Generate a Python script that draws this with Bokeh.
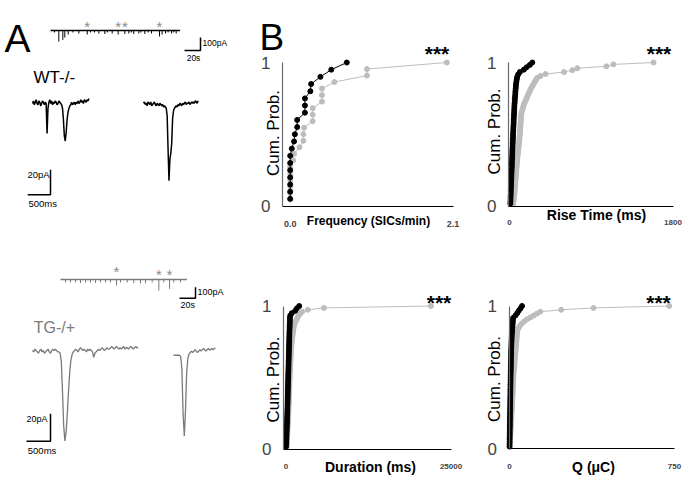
import numpy as np
from bokeh.plotting import figure
from bokeh.layouts import row, column
from bokeh.models import Range1d, FixedTicker, ColumnDataSource
from bokeh.embed import file_html
from bokeh.resources import INLINE
from bokeh.core.properties import value

FONT = "Liberation Sans"
BLACK = "#000000"
TRACE_GRAY = "#7a7a7a"
STAR_GRAY = "#8c8c8c"
CDF_GRAY = "#bdbdbd"

# ---------------- Panel A data ----------------
# overview recordings (time in s, event amplitude in pA, downward)
WT_OVERVIEW_LENGTH_S = 162
WT_EVENT_T = [5, 10.4, 15.4, 17.9, 22.1, 28, 35.4, 45.9, 50, 55, 60.4, 67.9, 71, 77.1, 84.6, 92.9,
              97.9, 101, 104.1, 110.4, 113, 117.9, 122, 126.3, 136.3, 139.5, 143.8, 147, 151.3, 154, 157.1]
WT_EVENT_PA = [15, 85, 72, 54, 31, 15, 23, 31, 15, 15, 23, 27, 15, 23, 31, 27,
               23, 15, 27, 23, 15, 27, 15, 23, 46, 31, 23, 15, 23, 15, 23]
WT_STAR_T = [45.9, 84.6, 92.9, 136.3]

TG_OVERVIEW_LENGTH_S = 158
TG_EVENT_T = [6.3, 12.5, 18.8, 25, 31.3, 37.5, 43.8, 50, 56.3, 62.5, 70, 75, 83.4, 91.6, 100,
              106.3, 114.6, 122.9, 129.1, 136.3, 141.6, 150]
TG_EVENT_PA = [27, 27, 27, 32, 27, 27, 32, 27, 27, 27, 55, 27, 27, 32, 36,
               36, 27, 100, 27, 85, 27, 27]
TG_STAR_T = [70, 122.9, 136.3]

# expanded traces (pA), sampled every WT_DT_MS / TG_DT_MS
WT_DT_MS = 20
WT_TRACE_1 = [0, 2, -1, 1, 3, 0, -1, 2, 1, -2, 0, 2, 1, -1, 1, 0, -24, -4, 1, 3, 0, 2, -1, 1, 0, 2, 1,
              -1, 0, 2, 1, 0, -1, -4, -13, -26, -30, -23, -13, -7, -4, -2, -1, 1, -1, 0, 1, -1, 1, 0,
              2, 0, 1, 3, 1, 2, 0, 3, 2, 1, 3, 2, 4]
WT_TRACE_2 = [1, 2, 0, 1, -1, 2, 1, 0, 2, -1, 0, 1, 2, 0, -1, 1, 0, -1, 1, 0, -1, 0, -2, -1, -2, -3,
              -9, -36, -61, -44, -39, -31, -11, -5, -3, -2, -1, -2, 0, -1, 1, 0, -1, 1, 0, 1, 2, 0,
              1, 1, 2, 0, 1, 2, 1, 2, 1, 3, 2, 1, 3]
TG_DT_MS = 25
TG_TRACE_1 = [0, -1, 1, 0, -1, -2, 0, 1, -1, 0, -2, -1, 0, 1, -1, -2, 0, 1, 0, 1, 0, -1,
              -1, -2, -8, -30, -55, -66, -60, -46, -30, -16, -7, -3,
              -1, 0, 1, 0, -1, 1, 2, 1, 0, 1, 0, -1, 1, 0, 1, 0, -1,
              -5, -2, -1,
              0, 1, 0, 1, 2, 1, 0, 1, 2, 1, 1, 2, 3, 2, 1, 2, 3, 2, 1, 2, 1, 2, 3, 1, 2, 2, 1, 2,
              3, 2, 1, 2, 3, 2, 2]
TG_TRACE_2 = [-2, -2, -2, -2, -2, -2, -3, -12, -45, -61, -42, -14, -4, -1, 0, 1, 0, 1, 2, 1, 0, 1,
              2, 1, 2, 3, 2, 1, 2, 3, 2, 2, 3, 2, 3, 3]

# scale bars
OVERVIEW_BAR_PA = 100
OVERVIEW_BAR_S = 20
TRACE_BAR_PA = 20
TRACE_BAR_MS = 500

# ---------------- Panel B data (cumulative probability) ----------------
WT_FREQ = [0, 0, 0, 0, 0, 0, 0, 0.02, 0.05, 0.06, 0.09, 0.09, 0.19, 0.19, 0.19, 0.26, 0.27, 0.39, 0.53, 0.73]
TG_FREQ = [0, 0, 0, 0, 0, 0, 0.04, 0.05, 0.12, 0.17, 0.17, 0.18, 0.29, 0.29, 0.29, 0.41, 0.41, 0.41,
           0.57, 0.99, 0.99, 2.02]

WT_RISE = [9, 11, 12, 12, 14, 15, 15, 17, 18, 18, 20, 21, 22, 22, 24, 25, 26, 26, 28, 29,
           30, 31, 31, 33, 34, 35, 36, 37, 39, 39, 41, 42, 43, 45, 46, 46, 48, 49, 51, 52,
           53, 54, 56, 58, 59, 62, 64, 65, 68, 70, 72, 76, 80, 85, 95, 114, 158, 188, 224, 251]
TG_RISE = [41, 43, 46, 49, 51, 53, 55, 57, 59, 60, 62, 64, 65, 67, 69, 70, 72, 74, 75, 77,
           79, 81, 83, 84, 86, 88, 91, 93, 95, 98, 100, 103, 105, 107, 109, 111, 113, 115, 116, 118,
           119, 121, 122, 124, 125, 127, 128, 129, 133, 140, 147, 152, 158, 167, 176, 186, 195, 204,
           213, 223, 232, 244, 256, 268, 280, 292, 306, 342, 397, 600, 692, 747, 1067, 1144, 1586]

WT_DUR = [18, 35, 52, 60, 74, 88, 95, 112, 125, 133, 150, 158, 171, 183, 192, 205, 214, 221, 236, 241,
          250, 257, 266, 272, 284, 291, 302, 308, 322, 333, 338, 352, 361, 368, 383, 392, 398, 411,
          423, 428, 441, 452, 458, 473, 482, 489, 503, 512, 518, 533, 548, 561, 577, 590, 600, 645,
          880, 1400, 1640, 2000]
TG_DUR = [60, 95, 110, 128, 150, 166, 185, 198, 214, 232, 246, 258, 277, 288, 301, 317, 329, 342, 351,
          366, 377, 388, 402, 411, 423, 430, 447, 456, 468, 477, 486, 497, 508, 516, 527, 538, 546, 561,
          572, 583, 596, 611, 622, 637, 648, 667, 681, 698, 716, 733, 752, 771, 788, 812, 833, 858, 891,
          922, 958, 1004, 1043, 1082, 1118, 1165, 1226, 1310, 1460, 1640, 1750, 1900, 2160, 2450, 3300,
          5740, 21960]

WT_Q = [0.1, 0.3, 0.5, 0.6, 0.8, 1.0, 1.1, 1.3, 1.4, 1.7, 1.8, 1.9, 2.2, 2.3, 2.4, 2.7, 2.8, 2.9, 3.2, 3.3,
        3.4, 3.7, 3.8, 4.0, 4.1, 4.4, 4.5, 4.7, 5.0, 5.1, 5.2, 5.5, 5.8, 5.9, 6.1, 6.4, 6.5, 6.8, 7.1, 7.3,
        7.5, 7.8, 8.4, 8.6, 9.2, 9.5, 10.2, 10.6, 11.4, 12.0, 13.1, 14.0, 14.8, 15.6, 16.7, 27.0, 35.0,
        42.0, 50.0, 57.0]
TG_Q = [0.8, 1.2, 1.9, 2.4, 2.9, 3.3, 3.9, 4.3, 4.8, 5.2, 5.8, 6.3, 6.7, 7.2, 7.7, 8.2, 8.6, 9.1, 9.6, 10.0,
        10.5, 11.0, 11.4, 11.9, 12.3, 12.8, 13.2, 13.7, 14.1, 14.6, 15.0, 15.3, 15.8, 16.0, 16.4, 16.7, 17.0,
        17.5, 18.2, 18.9, 19.6, 20.4, 21.0, 21.9, 22.6, 23.3, 24.1, 24.8, 25.6, 26.3, 27.0, 27.8, 28.5, 29.3,
        30.0, 30.8, 31.5, 32.3, 33.0, 33.8, 34.5, 35.5, 39.0, 44.0, 50.0, 58.0, 68.0, 80.0, 95.0, 110.0,
        125.0, 140.0, 235.0, 382.0, 726.0]

# ---------------- Panel A figure (frame in page pixels) ----------------
pa = figure(width=240, height=485, x_range=Range1d(0, 240), y_range=Range1d(485, 0),
            output_backend="svg", toolbar_location=None, min_border=0,
            x_axis_location=None, y_axis_location=None)
pa.grid.visible = False
pa.outline_line_color = None


def draw_overview(x0, y0, px_s, px_pa, length_s, ev_t, ev_pa, color):
    pa.line([x0, x0 + length_s * px_s], [y0, y0], line_color=color, line_width=1.5)
    xs = [x0 + t * px_s for t in ev_t]
    ys = [y0 + a * px_pa for a in ev_pa]
    pa.segment(x0=xs, y0=[y0] * len(xs), x1=xs, y1=ys, line_color=color, line_width=1)


def draw_trace(x0, y0, px_ms, px_pa, dt, vals, color, lw):
    xs = [x0 + i * dt * px_ms for i in range(len(vals))]
    ys = [y0 - v * px_pa for v in vals]
    pa.line(xs, ys, line_color=color, line_width=lw)


def draw_bar(xc, yc, px_t, px_pa, bar_t, bar_pa):
    pa.line([xc - bar_t * px_t, xc, xc], [yc, yc, yc - bar_pa * px_pa], line_color=BLACK, line_width=1.5)


def draw_stars(x0, px_s, times, ys, size):
    pa.text(x=[x0 + t * px_s for t in times], y=ys, text=["*"] * len(times),
            text_font=value(FONT), text_font_size=value(size), text_color=STAR_GRAY,
            text_align="center", text_baseline="middle")


def txt(x, y, s, size, align="left", baseline="middle", color=BLACK, style="normal"):
    pa.text(x=[x], y=[y], text=[s], text_font=value(FONT), text_font_size=value(size),
            text_align=align, text_baseline=baseline, text_color=color, text_font_style=style)


# WT overview
draw_overview(50, 30, 0.8, 0.13, WT_OVERVIEW_LENGTH_S, WT_EVENT_T, WT_EVENT_PA, BLACK)
draw_stars(50, 0.8, WT_STAR_T, [25.5] * len(WT_STAR_T), "15px")
draw_bar(200, 50, 0.8, 0.13, OVERVIEW_BAR_S, OVERVIEW_BAR_PA)
txt(202, 42, "100pA", "8.5px")
txt(193, 57, "20s", "8.5px", align="center")
txt(4, 38, "A", "39px", baseline="alphabetic")
txt(33, 76.7, "WT-/-", "17px", baseline="alphabetic")

# WT traces
draw_trace(32, 103, 0.0455, 1.25, WT_DT_MS, WT_TRACE_1, BLACK, 1.5)
draw_trace(143, 104, 0.0455, 1.25, WT_DT_MS, WT_TRACE_2, BLACK, 1.5)
draw_bar(50, 194.3, 0.0455, 1.25, TRACE_BAR_MS, TRACE_BAR_PA)
txt(27, 174.3, "20pA", "9.5px")
txt(28, 203.3, "500ms", "9.5px")

# TG overview
draw_overview(60, 279, 0.8, 0.11, TG_OVERVIEW_LENGTH_S, TG_EVENT_T, TG_EVENT_PA, TRACE_GRAY)
draw_stars(60, 0.8, TG_STAR_T, [270.5, 273.5, 273.5], "15px")
draw_bar(195, 297.7, 0.8, 0.11, OVERVIEW_BAR_S, OVERVIEW_BAR_PA)
txt(197, 291.7, "100pA", "9px")
txt(180, 304.3, "20s", "9px")
txt(33.3, 327.3, "TG-/+", "16px", baseline="alphabetic", color=TRACE_GRAY)

# TG traces
draw_trace(32, 350, 0.048, 1.37, TG_DT_MS, TG_TRACE_1, TRACE_GRAY, 1.3)
draw_trace(173, 352, 0.048, 1.37, TG_DT_MS, TG_TRACE_2, TRACE_GRAY, 1.3)
draw_bar(50, 440.7, 0.048, 1.37, TRACE_BAR_MS, TRACE_BAR_PA)
txt(26, 418.3, "20pA", "9px")
txt(27.3, 450, "500ms", "9.5px")


# ---------------- Panel B figures ----------------
def cdf_panel(box, x_anchor, y_anchor, yaxis_px, x_ticks, tick_labels, tick_size, tick_standoff,
              x_label, x_label_size, x_label_pos, y_label_pos, star_pos, wt_vals, tg_vals):
    left, top, w, h = box
    (xv0, xp0), (xv1, xp1) = x_anchor
    (yv0, yp0), (yv1, yp1) = y_anchor
    kx = (xp1 - xp0) / (xv1 - xv0)
    ky = (yp1 - yp0) / (yv1 - yv0)

    def X(px):
        return xv0 + (px - xp0) / kx

    def Y(py):
        return yv0 + (py - yp0) / ky

    p = figure(width=w, height=h, x_range=Range1d(X(left), X(left + w)),
               y_range=Range1d(Y(top + h), Y(top)),
               output_backend="svg", toolbar_location=None, min_border=0)
    p.grid.visible = False
    p.outline_line_color = None

    for vals, color in ((tg_vals, CDF_GRAY), (wt_vals, BLACK)):
        n = len(vals)
        src = ColumnDataSource(dict(x=vals, y=np.arange(1, n + 1) / n))
        p.line("x", "y", source=src, line_color=color, line_width=1)
        p.scatter("x", "y", source=src, size=5, fill_color=color, line_color=color)

    x_axis_start = X(yaxis_px)
    xa = p.xaxis[0]
    xa.fixed_location = 0
    xa.ticker = FixedTicker(ticks=x_ticks)
    xa.major_label_overrides = dict(zip(x_ticks, tick_labels))
    xa.bounds = (x_axis_start, x_ticks[-1])
    xa.axis_line_color = BLACK
    xa.axis_line_width = 1.2
    xa.major_tick_line_color = None
    xa.minor_tick_line_color = None
    xa.major_label_text_font = FONT
    xa.major_label_text_font_size = tick_size
    xa.major_label_text_font_style = "bold"
    xa.major_label_standoff = int(tick_standoff)

    ya = p.yaxis[0]
    ya.fixed_location = x_axis_start
    ya.ticker = FixedTicker(ticks=[0, 1])
    ya.bounds = (0, 1)
    ya.axis_line_color = "#6a6a6a"
    ya.axis_line_width = 1.2
    ya.major_tick_line_color = None
    ya.minor_tick_line_color = None
    ya.major_label_text_font = FONT
    ya.major_label_text_font_size = "17px"
    ya.major_label_standoff = 6

    # axis titles placed on the tick-label rows as in the original figure
    p.text(x=[X(x_label_pos[0])], y=[Y(x_label_pos[1])], text=[x_label], text_font=value(FONT),
           text_font_size=value(x_label_size), text_font_style="bold",
           text_align="center", text_baseline="middle")
    p.text(x=[X(y_label_pos[0])], y=[Y(y_label_pos[1])], text=["Cum. Prob."], text_font=value(FONT),
           text_font_size=value("17px"), angle=np.pi / 2,
           text_align="center", text_baseline="middle")
    p.text(x=[X(star_pos[0])], y=[Y(star_pos[1])], text=["***"], text_font=value(FONT),
           text_font_size=value("21px"), text_font_style="bold",
           text_align="center", text_baseline="middle")
    return p, X, Y


p1, X1, Y1 = cdf_panel((240, 0, 230, 244), ((0, 289.7), (2.1, 452.5)), ((0, 205.5), (1, 62)), 282,
                       [0, 2.1], ["0.0", "2.1"], "9px", 9,
                       "Frequency (SICs/min)", "12px", (368, 220.5), (272.5, 132.5), (436.5, 53),
                       WT_FREQ, TG_FREQ)
p1.text(x=[X1(259)], y=[Y1(36.7)], text=["B"], text_font=value(FONT), text_font_size=value("37px"),
        text_align="left", text_baseline="alphabetic")

p2, _, _ = cdf_panel((470, 0, 230, 244), ((0, 509), (1800, 672.5)), ((0, 205.5), (1, 62)), 508,
                     [0, 1800], ["0", "1800"], "8px", 8,
                     "Rise Time (ms)", "14px", (596, 214.5), (493.5, 131), (658.5, 53),
                     WT_RISE, TG_RISE)

p3, _, _ = cdf_panel((240, 244, 230, 241), ((0, 285.5), (25000, 450.5)), ((0, 448.5), (1, 305.5)), 283,
                     [0, 25000], ["0", "25000"], "8px", 9,
                     "Duration (ms)", "14px", (370, 466), (272.5, 379), (438.5, 302),
                     WT_DUR, TG_DUR)

p4, _, _ = cdf_panel((470, 244, 230, 241), ((0, 509), (750, 674)), ((0, 448.3), (1, 305.5)), 508.5,
                     [0, 750], ["0", "750"], "8px", 9,
                     "Q (\u03bcC)", "14px", (593, 466), (493.5, 378.5), (658, 302),
                     WT_Q, TG_Q)

layout = row(pa, column(row(p1, p2), row(p3, p4)))

open("out.html", "w").write(file_html(layout, INLINE))
